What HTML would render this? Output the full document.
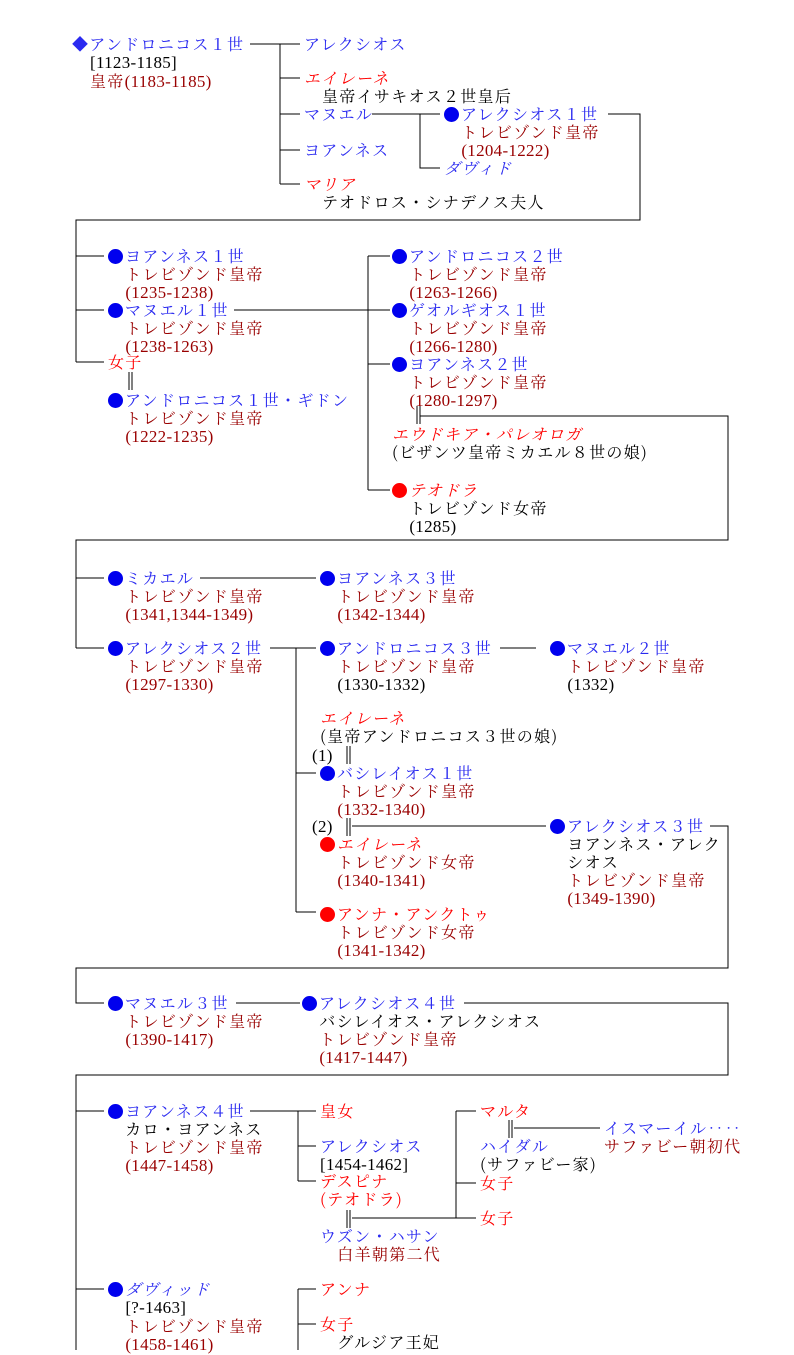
<!DOCTYPE html>
<html><head><meta charset="utf-8"><style>
body{margin:0;background:#fff;width:794px;height:1350px;overflow:hidden;position:relative}
.t{position:absolute;font-family:"Noto Serif CJK JP","Noto Sans CJK JP",serif;font-size:16px;line-height:18px;letter-spacing:1.3px;white-space:nowrap;color:#000}
.b{color:#2a2af0}.r{color:#f00}.d{color:#900}.i{font-style:italic}
.n{font-family:"Liberation Serif",serif;font-size:17px;letter-spacing:0.3px}
.o{display:inline-block;width:15px;height:15px;border-radius:50%;background:currentColor;margin-right:2px;vertical-align:-2px}
.b .o{background:#0000ee}
svg{position:absolute;left:0;top:0}
</style></head><body>
<svg width="794" height="1350" stroke="#000" stroke-width="1" fill="none" shape-rendering="crispEdges">
<path d="M250 44H300M280 44V184M280 78H300M280 114H300M280 150H300M280 184H300"/>
<path d="M372 114H440M420 114V168H440"/>
<path d="M608 114H640V220H76V362M76 256H104M76 310H104M76 362H104"/>
<path d="M234 310H390M368 256V490M368 256H390M368 364H390M368 490H390"/>
<path d="M417 406V424M420 406V424M420 416H728V540H76V648M76 578H104M76 648H104"/>
<path d="M200 578H316M270 648H316M296 648V912M296 773H316M296 912H316M500 648H536"/>
<path d="M347 746V764M350 746V764M347 818V836M350 818V836M352 826H546M710 826H728V968H76V1003H104"/>
<path d="M236 1003H300M464 1003H728V1075H76V1350M76 1111H104M76 1289H104"/>
<path d="M250 1111H316M298 1111V1181M298 1146H316M298 1181H316M347 1210V1228M350 1210V1228M352 1218H476M456 1111V1218M456 1111H476M456 1183H476"/>
<path d="M509 1120V1138M512 1120V1138M514 1128H600M298 1289V1350M298 1289H316M298 1324H316"/>
<path d="M129 372V390M132 372V390"/>
</svg>
<div class="t" style="left:72px;top:35px"><span class="b">◆アンドロニコス１世</span></div>
<div class="t" style="left:90px;top:53px"><span class="n">[1123-1185]</span><br><span class="d">皇帝<span class="n">(1183-1185)</span></span></div>
<div class="t b" style="left:304px;top:35px">アレクシオス</div>
<div class="t r i" style="left:304px;top:69px">エイレーネ</div>
<div class="t" style="left:322px;top:87px">皇帝イサキオス２世皇后</div>
<div class="t b" style="left:304px;top:105px">マヌエル</div>
<div class="t b" style="left:304px;top:141px">ヨアンネス</div>
<div class="t r i" style="left:304px;top:175px">マリア</div>
<div class="t" style="left:322px;top:193px">テオドロス・シナデノス夫人</div>
<div class="t" style="left:444px;top:105px"><span class="b"><span class="o"></span>アレクシオス１世</span><br><span class="d">　トレビゾンド皇帝<br>　<span class="n">(1204-1222)</span></span></div>
<div class="t b i" style="left:444px;top:159px">ダヴィド</div>

<div class="t" style="left:108px;top:247px"><span class="b"><span class="o"></span>ヨアンネス１世</span><br><span class="d">　トレビゾンド皇帝<br>　<span class="n">(1235-1238)</span></span></div>
<div class="t" style="left:108px;top:301px"><span class="b"><span class="o"></span>マヌエル１世</span><br><span class="d">　トレビゾンド皇帝<br>　<span class="n">(1238-1263)</span></span></div>
<div class="t r" style="left:108px;top:353px">女子</div>
<div class="t" style="left:108px;top:391px"><span class="b"><span class="o"></span>アンドロニコス１世・ギドン</span><br><span class="d">　トレビゾンド皇帝<br>　<span class="n">(1222-1235)</span></span></div>
<div class="t" style="left:392px;top:247px"><span class="b"><span class="o"></span>アンドロニコス２世</span><br><span class="d">　トレビゾンド皇帝<br>　<span class="n">(1263-1266)</span></span></div>
<div class="t" style="left:392px;top:301px"><span class="b"><span class="o"></span>ゲオルギオス１世</span><br><span class="d">　トレビゾンド皇帝<br>　<span class="n">(1266-1280)</span></span></div>
<div class="t" style="left:392px;top:355px"><span class="b"><span class="o"></span>ヨアンネス２世</span><br><span class="d">　トレビゾンド皇帝<br>　<span class="n">(1280-1297)</span></span></div>
<div class="t" style="left:392px;top:425px"><span class="r i">エウドキア・パレオロガ</span><br>(ビザンツ皇帝ミカエル８世の娘)</div>
<div class="t" style="left:392px;top:481px"><span class="r"><span class="o"></span><i>テオドラ</i></span><br>　トレビゾンド女帝<br>　<span class="n">(1285)</span></div>

<div class="t" style="left:108px;top:569px"><span class="b"><span class="o"></span>ミカエル</span><br><span class="d">　トレビゾンド皇帝<br>　<span class="n">(1341,1344-1349)</span></span></div>
<div class="t" style="left:320px;top:569px"><span class="b"><span class="o"></span>ヨアンネス３世</span><br><span class="d">　トレビゾンド皇帝<br>　<span class="n">(1342-1344)</span></span></div>
<div class="t" style="left:108px;top:639px"><span class="b"><span class="o"></span>アレクシオス２世</span><br><span class="d">　トレビゾンド皇帝<br>　<span class="n">(1297-1330)</span></span></div>
<div class="t" style="left:320px;top:639px"><span class="b"><span class="o"></span>アンドロニコス３世</span><br><span class="d">　トレビゾンド皇帝</span><br>　<span class="n">(1330-1332)</span></div>
<div class="t" style="left:550px;top:639px"><span class="b"><span class="o"></span>マヌエル２世</span><br><span class="d">　トレビゾンド皇帝</span><br>　<span class="n">(1332)</span></div>
<div class="t" style="left:320px;top:709px"><span class="r i">エイレーネ</span><br>(皇帝アンドロニコス３世の娘)</div>
<div class="t" style="left:312px;top:746px"><span class="n">(1)</span></div>
<div class="t" style="left:320px;top:764px"><span class="b"><span class="o"></span>バシレイオス１世</span><br><span class="d">　トレビゾンド皇帝<br>　<span class="n">(1332-1340)</span></span></div>
<div class="t" style="left:312px;top:817px"><span class="n">(2)</span></div>
<div class="t" style="left:320px;top:835px"><span class="r"><span class="o"></span><i>エイレーネ</i></span><br><span class="d">　トレビゾンド女帝<br>　<span class="n">(1340-1341)</span></span></div>
<div class="t" style="left:320px;top:905px"><span class="r"><span class="o"></span>アンナ・アンクトゥ</span><br><span class="d">　トレビゾンド女帝<br>　<span class="n">(1341-1342)</span></span></div>
<div class="t" style="left:550px;top:817px"><span class="b"><span class="o"></span>アレクシオス３世</span><br>　ヨアンネス・アレク<br>　シオス<br><span class="d">　トレビゾンド皇帝<br>　<span class="n">(1349-1390)</span></span></div>

<div class="t" style="left:108px;top:994px"><span class="b"><span class="o"></span>マヌエル３世</span><br><span class="d">　トレビゾンド皇帝<br>　<span class="n">(1390-1417)</span></span></div>
<div class="t" style="left:302px;top:994px"><span class="b"><span class="o"></span>アレクシオス４世</span><br>　バシレイオス・アレクシオス<br><span class="d">　トレビゾンド皇帝<br>　<span class="n">(1417-1447)</span></span></div>

<div class="t" style="left:108px;top:1102px"><span class="b"><span class="o"></span>ヨアンネス４世</span><br>　カロ・ヨアンネス<br><span class="d">　トレビゾンド皇帝<br>　<span class="n">(1447-1458)</span></span></div>
<div class="t r" style="left:320px;top:1102px">皇女</div>
<div class="t" style="left:320px;top:1137px"><span class="b">アレクシオス</span><br><span class="n">[1454-1462]</span></div>
<div class="t r" style="left:320px;top:1172px">デスピナ<br>(テオドラ)</div>
<div class="t" style="left:320px;top:1227px"><span class="b">ウズン・ハサン</span><br><span class="d">　白羊朝第二代</span></div>
<div class="t r" style="left:480px;top:1102px">マルタ</div>
<div class="t" style="left:480px;top:1137px"><span class="b">ハイダル</span><br>(サファビー家)</div>
<div class="t r" style="left:480px;top:1174px">女子</div>
<div class="t r" style="left:480px;top:1209px">女子</div>
<div class="t" style="left:604px;top:1119px"><span class="b">イスマーイル‥‥</span><br><span class="d">サファビー朝初代</span></div>
<div class="t" style="left:108px;top:1280px"><span class="b"><span class="o"></span><i>ダヴィッド</i></span><br>　<span class="n">[?-1463]</span><br><span class="d">　トレビゾンド皇帝<br>　<span class="n">(1458-1461)</span></span></div>
<div class="t r" style="left:320px;top:1280px">アンナ</div>
<div class="t" style="left:320px;top:1315px"><span class="r">女子</span><br>　グルジア王妃</div>
</body></html>
